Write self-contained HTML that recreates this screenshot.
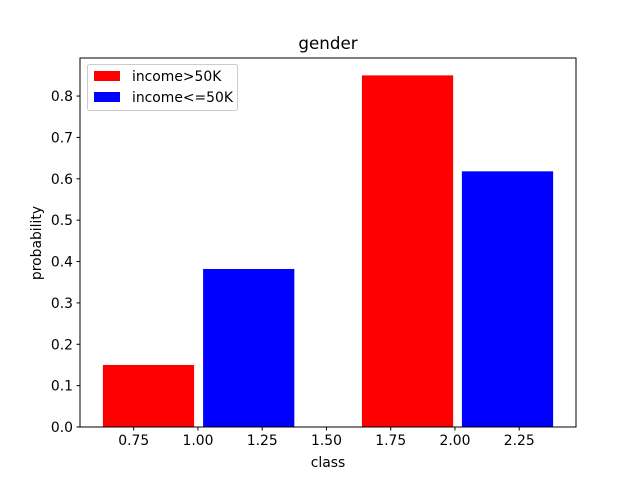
<!DOCTYPE html>
<html><head><meta charset="utf-8"><style>
body{margin:0;background:#fff;}
svg text{font-family:"DejaVu Sans","Liberation Sans",sans-serif;}
</style></head><body>
<svg id="chart" width="640" height="480"></svg>
<script>
const categories=["Female","Male"];
const redLeft=[0.63,1.638];
const blueLeft=[1.02,2.027];
const barWidth=0.355;
const redValues=[0.15,0.85];
const blueValues=[0.382,0.618];
const xTicks=[0.75,1.0,1.25,1.5,1.75,2.0,2.25];
const xTickLabels=["0.75","1.00","1.25","1.50","1.75","2.00","2.25"];
const yTicks=[0,0.1,0.2,0.3,0.4,0.5,0.6,0.7,0.8];
const yTickLabels=["0.0","0.1","0.2","0.3","0.4","0.5","0.6","0.7","0.8"];

const NS="http://www.w3.org/2000/svg";
const svg=document.getElementById('chart');
const L=80,R=576,T=58,B=427;
const xmin=0.541,xmax=2.471,ymin=0,ymax=0.892;
const X=v=>L+(v-xmin)/(xmax-xmin)*(R-L);
const Y=v=>B-(v-ymin)/(ymax-ymin)*(B-T);
function mk(tag,attrs,text){const e=document.createElementNS(NS,tag);for(const k in attrs)e.setAttribute(k,attrs[k]);if(text!==undefined)e.textContent=text;svg.appendChild(e);return e;}

function bars(lefts,vals,color,name){
  lefts.forEach((l,i)=>{
    const r=mk('rect',{x:X(l),y:Y(vals[i]),width:X(l+barWidth)-X(l),height:Y(0)-Y(vals[i]),fill:color});
    
    
  });
}
bars(redLeft,redValues,'#ff0000','bar-income-gt50k');
bars(blueLeft,blueValues,'#0000ff','bar-income-le50k');

const frame=mk('rect',{x:L,y:T,width:R-L,height:B-T,fill:'none',stroke:'#000','stroke-width':1});



xTicks.forEach((t,i)=>{
  mk('line',{x1:X(t),x2:X(t),y1:B,y2:B+3.5,stroke:'#000'});
  const e=mk('text',{x:X(t),y:B+18,'font-size':13.9,'text-anchor':'middle'},xTickLabels[i]);
  
  
});
yTicks.forEach((t,i)=>{
  mk('line',{x1:L-3.5,x2:L,y1:Y(t),y2:Y(t),stroke:'#000'});
  const e=mk('text',{x:L-7,y:Y(t)+5,'font-size':13.9,'text-anchor':'end'},yTickLabels[i]);
  
  
});
let e=mk('text',{x:328,y:467,'font-size':13.9,'text-anchor':'middle'},'class');

e=mk('text',{x:0,y:0,'font-size':13.9,'text-anchor':'middle',transform:'translate(41,243) rotate(-90)'},'probability');

e=mk('text',{x:328,y:49,'font-size':16.7,'text-anchor':'middle'},'gender');


const lg=mk('rect',{x:87.5,y:64.5,width:150,height:46,rx:2,fill:'#fff','fill-opacity':0.8,stroke:'#ccc'});

mk('rect',{x:94,y:71,width:26,height:10,fill:'#ff0000'});
e=mk('text',{x:132,y:81,'font-size':13.9},'income>50K');

mk('rect',{x:94,y:92,width:26,height:10,fill:'#0000ff'});
e=mk('text',{x:132,y:102,'font-size':13.9},'income<=50K');

</script>
</body></html>
